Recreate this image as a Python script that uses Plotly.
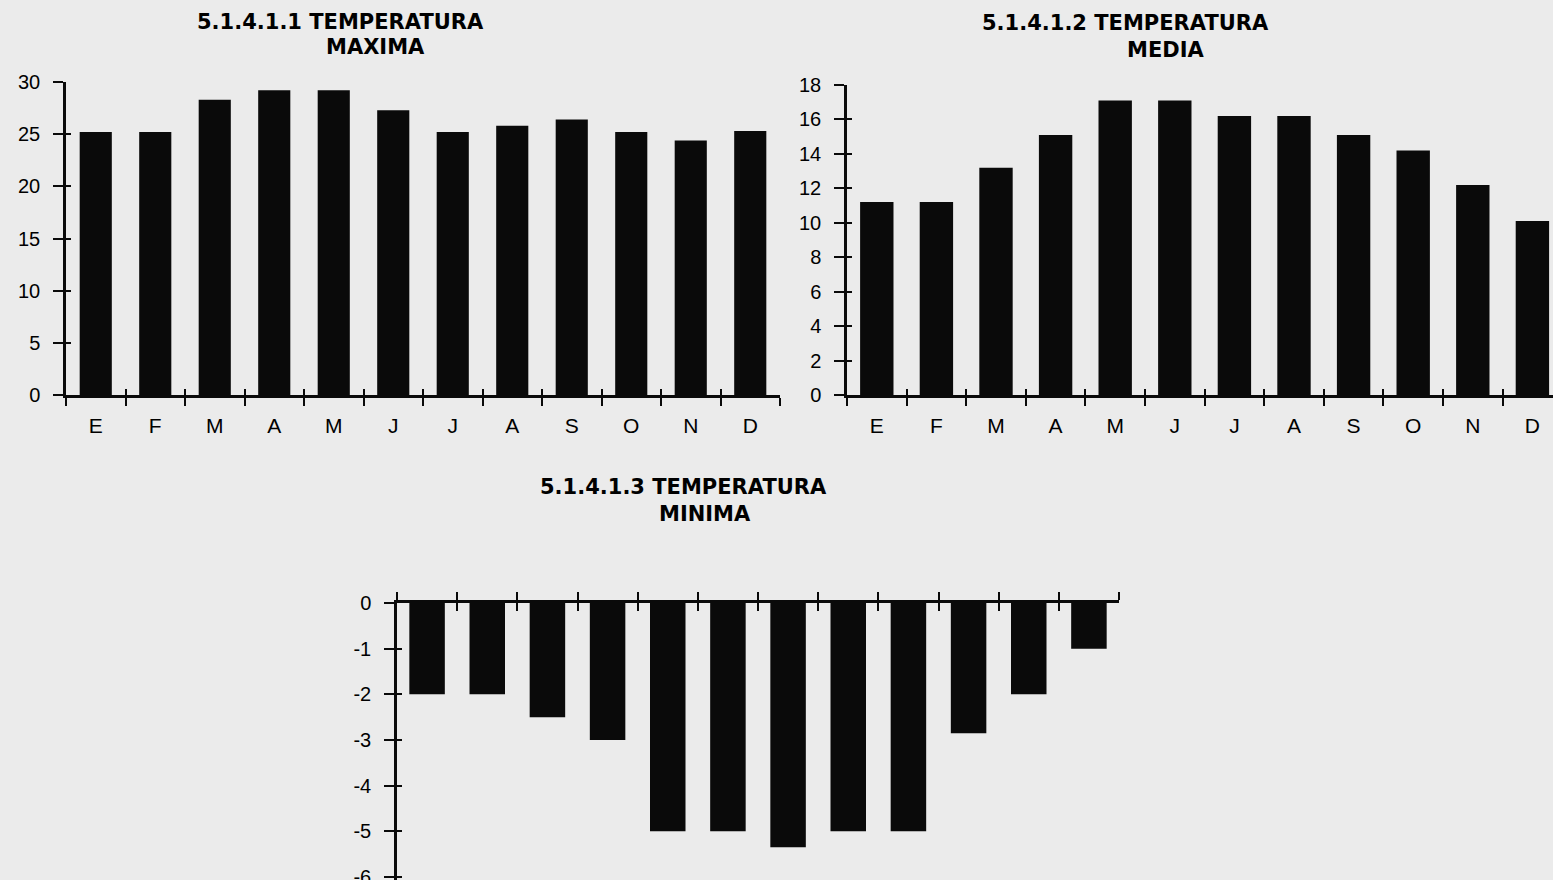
import plotly.graph_objects as go

# ---- data ----
months = ["E", "F", "M", "A", "M", "J", "J", "A", "S", "O", "N", "D"]
temp_max = [25.2, 25.2, 28.3, 29.2, 29.2, 27.3, 25.2, 25.8, 26.4, 25.2, 24.4, 25.3]
temp_media = [11.2, 11.2, 13.2, 15.1, 17.1, 17.1, 16.2, 16.2, 15.1, 14.2, 12.2, 10.1]
temp_min = [-2, -2, -2.5, -3, -5, -5, -5.35, -5, -5, -2.85, -2, -1]

max_ticks = [0, 5, 10, 15, 20, 25, 30]
media_ticks = [0, 2, 4, 6, 8, 10, 12, 14, 16, 18]
min_ticks = [0, -1, -2, -3, -4, -5, -6]
min_ticklabels = ["0", "-1", "-2", "-3", "-4", "-5", "-6"]

titles = [
    ("5.1.4.1.1 TEMPERATURA", "MAXIMA"),
    ("5.1.4.1.2 TEMPERATURA", "MEDIA"),
    ("5.1.4.1.3 TEMPERATURA", "MINIMA"),
]

W, H = 1553, 880
BG = "#ebebeb"
INK = "#0a0a0a"
TICKFONT = "Liberation Sans"
TITLEFONT = "DejaVu Sans"

idx = list(range(len(months)))
bounds = [i - 0.5 for i in range(len(months) + 1)]


def px_x(p):
    return p / W


def px_y(p):
    return 1 - p / H


fig = go.Figure()

bar_style = dict(marker=dict(color=INK, line=dict(width=0)), hoverinfo="x+y", showlegend=False)
fig.add_trace(go.Bar(x=idx, y=temp_max, xaxis="x", yaxis="y", width=0.54, **bar_style))
fig.add_trace(go.Bar(x=idx, y=temp_media, xaxis="x2", yaxis="y2", width=0.56, **bar_style))
fig.add_trace(go.Bar(x=idx, y=temp_min, xaxis="x3", yaxis="y3", width=0.59, **bar_style))

# invisible traces so the overlay (inside-tick) axes are drawn
for k in (4, 5, 6):
    fig.add_trace(go.Scatter(x=[None], y=[None], xaxis=f"x{k}", yaxis=f"y{k}",
                             mode="markers", showlegend=False, hoverinfo="skip"))

# chart 3: 0 at 603 px, -6 at 877 px; axis continues to the page bottom
px_per_unit3 = (877 - 603) / 6.0
y3_low = -6 - (H - 877) / px_per_unit3

x_dom = [
    [px_x(66), px_x(780)],
    [px_x(847), 1.0],
    [px_x(397), px_x(1119)],
]
y_dom = [
    [px_y(395), px_y(82)],
    [px_y(395), px_y(85)],
    [0.0, px_y(603)],
]
x_rng = [
    [-0.5, 11.5],
    [-0.5, -0.5 + (W - 847) / 59.6],
    [-0.5, 11.5],
]
y_rng = [[0, 30], [0, 18], [y3_low, 0]]
y_tv = [max_ticks, media_ticks, min_ticks]
y_tt = [[str(v) for v in max_ticks], [str(v) for v in media_ticks], min_ticklabels]

layout_axes = {}
for i in range(3):
    n = "" if i == 0 else str(i + 1)
    yn = "y" + n
    xn = "x" + n
    top = i == 2
    layout_axes["xaxis" + n] = dict(
        domain=x_dom[i], range=x_rng[i], anchor=yn, automargin=False,
        side="top" if top else "bottom",
        tickmode="array", tickvals=idx, ticktext=months,
        ticks="", showticklabels=not top, ticklabelstandoff=10,
        ticklabeloverflow="allow",
        tickfont=dict(family=TICKFONT, size=21, color="black"),
        showline=True, linecolor=INK, linewidth=2.5,
        showgrid=False, zeroline=False, fixedrange=True,
        minor=dict(tickmode="array", tickvals=bounds, ticks="outside",
                   ticklen=8, tickwidth=2, tickcolor=INK, showgrid=False),
    )
    layout_axes["yaxis" + n] = dict(
        domain=y_dom[i], range=y_rng[i], anchor=xn, automargin=False,
        tickmode="array", tickvals=y_tv[i], ticktext=y_tt[i],
        ticks="outside", ticklen=10, tickwidth=2, tickcolor=INK,
        ticklabelstandoff=9, ticklabeloverflow="allow",
        tickfont=dict(family=TICKFONT, size=20, color="black"),
        showline=True, linecolor=INK, linewidth=2.5,
        showgrid=False, zeroline=False, fixedrange=True,
    )
    # overlay axes giving the inner half of the crossing tick marks
    k = str(i + 4)
    layout_axes["xaxis" + k] = dict(
        overlaying=xn, anchor="y" + k, range=x_rng[i], automargin=False,
        side="top" if top else "bottom",
        tickmode="array", tickvals=bounds, ticks="inside",
        ticklen=6 if not top else 8, tickwidth=2, tickcolor=INK,
        showticklabels=False, showline=False, showgrid=False, zeroline=False,
        fixedrange=True,
    )
    layout_axes["yaxis" + k] = dict(
        overlaying=yn, anchor="x" + k, range=y_rng[i], automargin=False,
        tickmode="array", tickvals=y_tv[i], ticks="inside",
        ticklen=5, tickwidth=2, tickcolor=INK,
        showticklabels=False, showline=False, showgrid=False, zeroline=False,
        fixedrange=True,
    )

title_pos = [
    ((340, 22), (375, 47)),
    ((1125, 23), (1165, 50)),
    ((683, 487), (705, 514)),
]
annotations = []
for (l1, l2), ((x1, y1), (x2, y2)) in zip(titles, title_pos):
    for txt, xx, yy in ((l1, x1, y1), (l2, x2, y2)):
        annotations.append(dict(
            text=f"<b>{txt}</b>", x=px_x(xx), y=px_y(yy), xref="paper", yref="paper",
            xanchor="center", yanchor="middle", showarrow=False,
            font=dict(family=TITLEFONT, size=21, color="black"),
        ))

fig.update_layout(
    width=W, height=H, margin=dict(l=0, r=0, t=0, b=0, autoexpand=False),
    paper_bgcolor=BG, plot_bgcolor=BG,
    bargap=0.45, showlegend=False,
    annotations=annotations,
    **layout_axes,
)

fig.write_html(
    "out.html",
    config={"displayModeBar": False},
    post_script="document.body.style.margin='0';document.body.style.background='%s';" % BG,
)
